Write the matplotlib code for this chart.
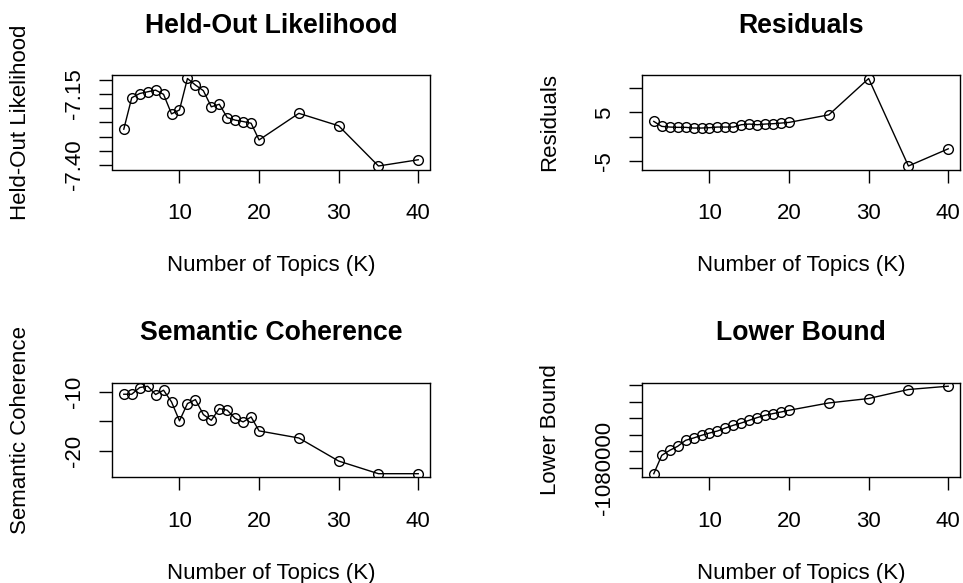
import numpy as np
import matplotlib
matplotlib.use("Agg")
import matplotlib.pyplot as plt

plt.rcParams["font.family"] = ["Liberation Sans", "DejaVu Sans"]
FS = 16

K = [3, 4, 5, 6, 7, 8, 9, 10, 11, 12, 13, 14, 15, 16, 17, 18, 19, 20, 25, 30, 35, 40]
heldout = [-7.274, -7.163, -7.148, -7.142, -7.136, -7.151, -7.220, -7.206, -7.095, -7.118,
           -7.138, -7.195, -7.186, -7.233, -7.242, -7.247, -7.253, -7.312, -7.218, -7.262,
           -7.404, -7.382]
residuals = [3.16, 2.14, 2.0, 1.94, 1.94, 1.8, 1.8, 1.87, 2.0, 2.0, 2.0, 2.48, 2.62, 2.48,
             2.62, 2.69, 2.82, 2.96, 4.52, 12.0, -6.02, -2.48]
semcoh = [-10.4, -10.4, -9.27, -9.04, -10.45, -9.72, -11.7, -14.9, -11.98, -11.3, -13.84,
          -14.8, -12.82, -13.1, -14.5, -15.08, -14.24, -16.6, -17.8, -21.7, -23.84, -23.84]
bound = [-1081820, -1076270, -1074750, -1073530, -1071710, -1071010, -1070200, -1069500,
         -1068890, -1067980, -1067160, -1066460, -1065640, -1064820, -1064120, -1063610,
         -1063120, -1062610, -1060390, -1059050, -1056320, -1055320]

xticks = [10, 20, 30, 40]
panels = [
    ("Held-Out Likelihood", heldout, [-7.40, -7.35, -7.30, -7.25, -7.20, -7.15, -7.10],
     ["-7.40", "", "", "", "", "-7.15", ""]),
    ("Residuals", residuals, [-5, 0, 5, 10], ["-5", "", "5", ""]),
    ("Semantic Coherence", semcoh, [-20, -15, -10], ["-20", "", "-10"]),
    ("Lower Bound", bound, [-1080000, -1075000, -1070000, -1065000, -1060000, -1055000],
     ["-1080000", "", "", "", "", ""]),
]

W, H = 963, 583
fig = plt.figure(figsize=(W / 100, H / 100), dpi=100)
boxes = [(112, 75), (642, 75), (112, 382.7), (642, 382.7)]   # left/top of each plot box, px
bw, bh = 318, 94.5

for (title, vals, yt, ytl), (x0, y0) in zip(panels, boxes):
    ax = fig.add_axes([x0 / W, 1 - (y0 + bh) / H, bw / W, bh / H])
    ax.plot(K, vals, "-", color="black", lw=1.0, marker="o", ms=7, mfc="none", mec="black", mew=1.0)
    ax.margins(0.04)
    ax.set_xticks(xticks)
    ax.set_yticks(yt)
    ax.set_yticklabels(ytl)
    for s in ax.spines.values():
        s.set_linewidth(1.0)
    ax.tick_params(length=9.5, width=1.0, labelsize=FS)
    ax.tick_params(axis="x", pad=14.5)
    ax.tick_params(axis="y", pad=10)
    for t in ax.get_yticklabels():
        t.set_rotation(90); t.set_va("center")
    ax.set_title(title, fontsize=FS * 1.2, fontweight="bold", pad=30.5)
    ax.set_xlabel("Number of Topics (K)", fontsize=FS)
    ax.set_ylabel(title, fontsize=FS)
    ax.xaxis.set_label_coords(0.5, -0.905)
    ax.xaxis.label.set_va("top")
    ax.yaxis.set_label_coords(-0.256, 0.5)

fig.savefig("out.png", dpi=100)
